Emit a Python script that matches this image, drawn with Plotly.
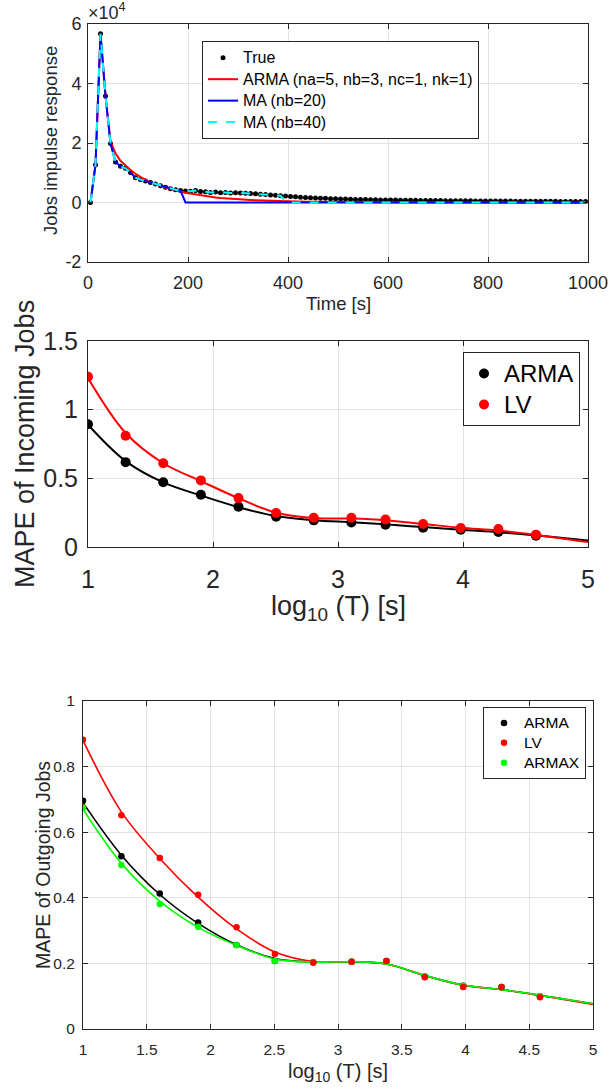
import plotly.graph_objects as go

# ---------------- Panel 1: impulse response ----------------
time_s = [5, 15, 25, 35, 45, 55, 65, 75, 85, 95,
          105, 115, 125, 135, 145, 155, 165, 175, 185, 195,
          205, 215, 225, 235, 245, 255, 265, 275, 285, 295,
          305, 315, 325, 335, 345, 355, 365, 375, 385, 395,
          405, 415, 425, 435, 445, 455, 465, 475, 485, 495,
          505, 515, 525, 535, 545, 555, 565, 575, 585, 595,
          605, 615, 625, 635, 645, 655, 665, 675, 685, 695,
          705, 715, 725, 735, 745, 755, 765, 775, 785, 795,
          805, 815, 825, 835, 845, 855, 865, 875, 885, 895,
          905, 915, 925, 935, 945, 955, 965, 975, 985, 995]

true_resp = [0, 12700, 56700, 35800, 19800, 13600, 12200, 11500, 10100, 8300,
             7700, 7200, 6700, 6200, 5600, 5100, 4600, 4300, 4000, 3900,
             3800, 4000, 3700, 3600, 3400, 3500, 3300, 3400, 3200, 3300,
             3200, 3100, 3000, 2900, 2800, 2700, 2500, 2400, 2300, 2200,
             2000, 1900, 1800, 1700, 1600, 1500, 1450, 1400, 1300, 1250,
             1200, 1150, 1100, 1050, 1000, 980, 950, 900, 880, 850,
             820, 800, 780, 760, 740, 720, 700, 680, 660, 650,
             640, 620, 600, 590, 580, 560, 550, 540, 530, 520,
             510, 500, 490, 480, 470, 460, 450, 440, 430, 420,
             410, 400, 390, 380, 370, 360, 350, 340, 330, 320]

arma_resp = [0, 12700, 56700, 35800, 20500, 16500, 14000, 12300, 10900, 9600,
             8500, 7600, 6800, 6100, 5500, 5000, 4500, 4100, 3700, 3300,
             3000, 2700, 2400, 2100, 1900, 1700, 1500, 1350, 1200, 1100,
             1000, 900, 800, 720, 650, 580, 520, 470, 420, 380,
             340, 300, 270, 240, 220, 200, 180, 160, 140, 130,
             120, 110, 100, 90, 80, 70, 65, 60, 55, 50,
             45, 40, 38, 35, 32, 30, 28, 26, 24, 22,
             20, 18, 17, 16, 15, 14, 13, 12, 11, 10,
             9, 8, 8, 7, 7, 6, 6, 5, 5, 4,
             4, 4, 3, 3, 3, 2, 2, 2, 1, 1]

ma20_resp = [0, 12700, 56700, 35800, 19800, 13600, 12200, 11500, 10100, 8300,
             7700, 7200, 6700, 6200, 5600, 5100, 4600, 4300, 4000, 0,
             0, 0, 0, 0, 0, 0, 0, 0, 0, 0,
             0, 0, 0, 0, 0, 0, 0, 0, 0, 0,
             0, 0, 0, 0, 0, 0, 0, 0, 0, 0,
             0, 0, 0, 0, 0, 0, 0, 0, 0, 0,
             0, 0, 0, 0, 0, 0, 0, 0, 0, 0,
             0, 0, 0, 0, 0, 0, 0, 0, 0, 0,
             0, 0, 0, 0, 0, 0, 0, 0, 0, 0,
             0, 0, 0, 0, 0, 0, 0, 0, 0, 0]

ma40_resp = [0, 12700, 56700, 35800, 19800, 13600, 12200, 11500, 10100, 8300,
             7700, 7200, 6700, 6200, 5600, 5100, 4600, 4300, 4000, 3900,
             3800, 4000, 3700, 3600, 3400, 3500, 3300, 3400, 3200, 3300,
             3200, 3100, 3000, 2900, 2800, 2700, 2500, 2400, 2300, 0,
             0, 0, 0, 0, 0, 0, 0, 0, 0, 0,
             0, 0, 0, 0, 0, 0, 0, 0, 0, 0,
             0, 0, 0, 0, 0, 0, 0, 0, 0, 0,
             0, 0, 0, 0, 0, 0, 0, 0, 0, 0,
             0, 0, 0, 0, 0, 0, 0, 0, 0, 0,
             0, 0, 0, 0, 0, 0, 0, 0, 0, 0]

p1_yticks = [-20000, 0, 20000, 40000, 60000]
p1_yticktext = ["-2", "0", "2", "4", "6"]
p1_xticks = [0, 200, 400, 600, 800, 1000]

# ---------------- Panel 2: MAPE incoming ----------------
logT = [1.0, 1.301, 1.602, 1.903, 2.204, 2.505, 2.806, 3.107, 3.380, 3.681, 3.982, 4.283, 4.584]
in_arma = [0.894, 0.618, 0.472, 0.380, 0.293, 0.220, 0.194, 0.179, 0.162, 0.140, 0.126, 0.109, 0.082]
in_lv = [1.240, 0.810, 0.610, 0.485, 0.356, 0.247, 0.213, 0.213, 0.200, 0.167, 0.138, 0.131, 0.090]

fit_x = [1.0, 1.301, 1.602, 1.903, 2.204, 2.505, 2.806, 3.107, 3.380, 3.681, 3.982, 4.283, 4.584, 5.0]
in_arma_fit = [0.890, 0.625, 0.470, 0.375, 0.290, 0.225, 0.195, 0.180, 0.165, 0.145, 0.125, 0.108, 0.085, 0.048]
in_lv_fit = [1.230, 0.830, 0.610, 0.480, 0.355, 0.250, 0.212, 0.207, 0.195, 0.168, 0.140, 0.120, 0.088, 0.036]

# ---------------- Panel 3: MAPE outgoing ----------------
out_arma = [0.696, 0.527, 0.413, 0.325, 0.256, 0.207, 0.203, 0.205, 0.207, 0.160, 0.132, 0.128, 0.100]
out_lv = [0.882, 0.652, 0.521, 0.409, 0.310, 0.229, 0.203, 0.205, 0.207, 0.158, 0.128, 0.128, 0.097]
out_armax = [0.675, 0.500, 0.381, 0.312, 0.256, 0.207, 0.204, 0.206, 0.206, 0.160, 0.132, 0.128, 0.100]

out_arma_fit = [0.690, 0.530, 0.410, 0.322, 0.257, 0.215, 0.204, 0.205, 0.198, 0.163, 0.134, 0.120, 0.103, 0.077]
out_lv_fit = [0.880, 0.662, 0.520, 0.402, 0.305, 0.235, 0.206, 0.205, 0.198, 0.163, 0.133, 0.120, 0.102, 0.075]
out_armax_fit = [0.670, 0.505, 0.390, 0.310, 0.255, 0.213, 0.204, 0.205, 0.198, 0.163, 0.134, 0.120, 0.103, 0.077]

W, H = 609, 1091
FONT = "Liberation Sans, Arial, Helvetica, sans-serif"
AX = "#262626"
GRID = "#e3e3e3"


def px(x):
    return x / W


def py(y):
    return 1 - y / H


def big(name, size):
    return '<span style="font-size:%spx">%s</span>' % (size, name)


fig = go.Figure()

# panel 1 traces
fig.add_trace(go.Scatter(x=time_s, y=true_resp, mode="markers", name=big("True", 16),
                         marker=dict(color="black", size=5), xaxis="x", yaxis="y", legend="legend"))
fig.add_trace(go.Scatter(x=time_s, y=arma_resp, mode="lines", name=big("ARMA (na=5, nb=3, nc=1, nk=1)", 16),
                         line=dict(color="#ff0000", width=2), xaxis="x", yaxis="y", legend="legend"))
fig.add_trace(go.Scatter(x=time_s, y=ma20_resp, mode="lines", name=big("MA (nb=20)", 16),
                         line=dict(color="#0000ff", width=2), xaxis="x", yaxis="y", legend="legend"))
fig.add_trace(go.Scatter(x=time_s, y=ma40_resp, mode="lines", name=big("MA (nb=40)", 16),
                         line=dict(color="#00ffff", width=2, dash="dash"), xaxis="x", yaxis="y", legend="legend"))

# panel 2 traces
fig.add_trace(go.Scatter(x=fit_x, y=in_arma_fit, mode="lines", line=dict(color="black", width=2, shape="spline"),
                         showlegend=False, xaxis="x2", yaxis="y2"))
fig.add_trace(go.Scatter(x=logT, y=in_arma, mode="markers", name=big("ARMA", 24), marker=dict(color="black", size=10),
                         xaxis="x2", yaxis="y2", legend="legend2"))
fig.add_trace(go.Scatter(x=fit_x, y=in_lv_fit, mode="lines", line=dict(color="#ff0000", width=2, shape="spline"),
                         showlegend=False, xaxis="x2", yaxis="y2"))
fig.add_trace(go.Scatter(x=logT, y=in_lv, mode="markers", name=big("LV", 24), marker=dict(color="#ff0000", size=10),
                         xaxis="x2", yaxis="y2", legend="legend2"))

# panel 3 traces
fig.add_trace(go.Scatter(x=fit_x, y=out_arma_fit, mode="lines", line=dict(color="black", width=1.6, shape="spline"),
                         showlegend=False, xaxis="x3", yaxis="y3"))
fig.add_trace(go.Scatter(x=fit_x, y=out_lv_fit, mode="lines", line=dict(color="#ff0000", width=1.6, shape="spline"),
                         showlegend=False, xaxis="x3", yaxis="y3"))
fig.add_trace(go.Scatter(x=fit_x, y=out_armax_fit, mode="lines", line=dict(color="#00ff00", width=1.6, shape="spline"),
                         showlegend=False, xaxis="x3", yaxis="y3"))
fig.add_trace(go.Scatter(x=logT, y=out_arma, mode="markers", name=big("ARMA", 15.5), marker=dict(color="black", size=6.5),
                         xaxis="x3", yaxis="y3", legend="legend3", legendrank=1))
fig.add_trace(go.Scatter(x=logT, y=out_armax, mode="markers", name=big("ARMAX", 15.5), marker=dict(color="#00ff00", size=6.5),
                         xaxis="x3", yaxis="y3", legend="legend3", legendrank=3))
fig.add_trace(go.Scatter(x=logT, y=out_lv, mode="markers", name=big("LV", 15.5), marker=dict(color="#ff0000", size=6.5),
                         xaxis="x3", yaxis="y3", legend="legend3", legendrank=2))


def axis(domain, rng, fsize, standoff, **kw):
    d = dict(domain=domain, range=rng, showline=True, linecolor=AX, linewidth=1, mirror="ticks",
             ticks="inside", ticklen=5, tickcolor=AX, showgrid=True, gridcolor=GRID, gridwidth=1,
             zeroline=False, tickfont=dict(family=FONT, size=fsize, color=AX),
             ticklabelstandoff=standoff, automargin=False)
    d.update(kw)
    return d


fig.update_layout(
    width=W, height=H, margin=dict(l=0, r=0, t=0, b=0, autoexpand=False),
    paper_bgcolor="white", plot_bgcolor="white",
    font=dict(family=FONT, color=AX),
    xaxis=axis([px(88), px(588)], [0, 1000], 18, 4, tickvals=p1_xticks, anchor="y"),
    yaxis=axis([py(262), py(24)], [-20000, 60000], 18, 2, tickvals=p1_yticks, ticktext=p1_yticktext, anchor="x"),
    xaxis2=axis([px(88), px(588)], [1, 5], 25, 10, dtick=1, tick0=1, anchor="y2"),
    yaxis2=axis([py(547), py(341)], [0, 1.5], 25, 4, tickvals=[0, 0.5, 1, 1.5], anchor="x2"),
    xaxis3=axis([px(83), px(593)], [1, 5], 15.5, 6, dtick=0.5, tick0=1, anchor="y3"),
    yaxis3=axis([py(1029), py(701)], [0, 1], 15.5, 4, dtick=0.2, tick0=0, anchor="x3"),
    legend=dict(x=px(202), y=py(41), xanchor="left", yanchor="top", bgcolor="white",
                bordercolor=AX, borderwidth=1, font=dict(family=FONT, size=14.2, color="black"),
                tracegroupgap=0),
    legend2=dict(x=px(463), y=py(352), xanchor="left", yanchor="top", bgcolor="white",
                 bordercolor=AX, borderwidth=1, font=dict(family=FONT, size=21.5, color="black")),
    legend3=dict(x=px(586), y=py(707), xanchor="right", yanchor="top", bgcolor="white",
                 bordercolor=AX, borderwidth=1, font=dict(family=FONT, size=13, color="black"),
                 traceorder="normal"),
    showlegend=True,
)

ann = [
    dict(text="Jobs impulse response", x=px(50), y=py(141), textangle=-90, font=dict(size=18.5)),
    dict(text="Time [s]", x=px(338), y=py(303), font=dict(size=18.5)),
    dict(text="MAPE of Incoming Jobs", x=px(25), y=py(444), textangle=-90, font=dict(size=27)),
    dict(text="log<sub>10</sub> (T) [s]", x=px(338), y=py(608), font=dict(size=27)),
    dict(text="MAPE of Outgoing Jobs", x=px(43), y=py(865), textangle=-90, font=dict(size=19.5)),
    dict(text="log<sub>10</sub> (T) [s]", x=px(338), y=py(1072), font=dict(size=20)),
]
for a in ann:
    a.update(xref="paper", yref="paper", showarrow=False, xanchor="center", yanchor="middle")
    a["font"].update(family=FONT, color=AX)
    fig.add_annotation(**a)

fig.add_annotation(text="\u00d710<sup>4</sup>", x=px(86), y=py(25), xref="paper", yref="paper",
                   showarrow=False, xanchor="left", yanchor="bottom",
                   font=dict(family=FONT, size=18, color=AX))

fig.write_html("out.html", config={"displayModeBar": False},
               post_script="document.body.style.margin='0px';document.body.style.overflow='hidden';")
